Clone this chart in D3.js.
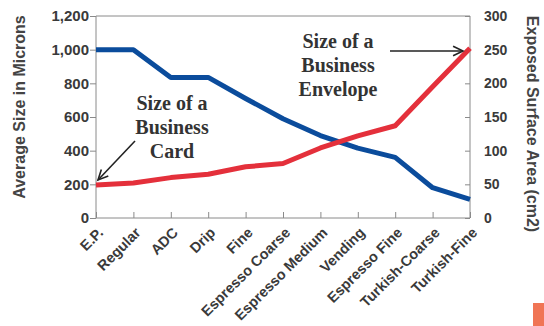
<!DOCTYPE html>
<html>
<head>
<meta charset="utf-8">
<script src="https://cdn.jsdelivr.net/npm/d3@7"></script>
<style>
  html, body { margin: 0; padding: 0; background: #fff; }
  svg { display: block; }
</style>
</head>
<body>
<svg id="chart" width="544" height="326"></svg>
<script>
// Grind sizes, from coarsest to finest
const grinds = ["E.P.", "Regular", "ADC", "Drip", "Fine", "Espresso Coarse",
  "Espresso Medium", "Vending", "Espresso Fine", "Turkish-Coarse", "Turkish-Fine"];
// Average particle size (microns), left axis
const sizeMicrons = [1000, 1000, 835, 835, 710, 590, 490, 415, 360, 180, 110];
// Exposed surface area (cm2), right axis
const surfaceArea = [49, 52, 60, 65, 76, 81, 104, 122, 137, 195, 252];
const leftTicks = [0, 200, 400, 600, 800, 1000, 1200];
const rightTicks = [0, 50, 100, 150, 200, 250, 300];

const svg = d3.select("#chart");
const plotL = 96, plotR = 470, plotT = 16, plotB = 218;

const x = d3.scalePoint().domain(grinds).range([plotL, plotR]).padding(0);
const yL = d3.scaleLinear().domain([0, 1200]).range([plotB, plotT]);
const yR = d3.scaleLinear().domain([0, 300]).range([plotB, plotT]);

const axisColor = "#8a8a8a";
const textColor = "#3a3a3a";
const sans = "'Liberation Sans', Arial, sans-serif";

// Frame: top edge
svg.append("line").attr("x1", plotL).attr("x2", plotR).attr("y1", plotT).attr("y2", plotT)
  .attr("stroke", axisColor).attr("stroke-width", 1);

// Left axis
const gL = svg.append("g").attr("transform", `translate(${plotL},0)`)
  .call(d3.axisLeft(yL).tickValues(leftTicks).tickFormat(d3.format(",")).tickSize(6).tickPadding(1));
// Right axis (ticks point inward)
const gR = svg.append("g").attr("transform", `translate(${plotR},0)`)
  .call(d3.axisRight(yR).tickValues(rightTicks).tickSize(-5).tickPadding(14));
// Bottom axis (ticks point inward)
const gB = svg.append("g").attr("transform", `translate(0,${plotB})`)
  .call(d3.axisBottom(x).tickSize(-6).tickPadding(6));

[gL, gR, gB].forEach(g => {
  g.select(".domain").attr("stroke", axisColor).attr("stroke-width", 1);
  g.selectAll(".tick line").attr("stroke", axisColor).attr("stroke-width", 1);
  g.selectAll(".tick text").style("font", `bold 15px ${sans}`).attr("fill", textColor);
});
gR.selectAll(".tick text").style("font", `bold 14px ${sans}`);
gR.select(".domain").attr("d", `M0,${plotT}V${plotB}`);
gL.select(".domain").attr("d", `M0,${plotT}V${plotB}`);
gB.select(".domain").attr("d", `M${plotL},0H${plotR}`);

gB.selectAll(".tick text")
  .style("font", `bold 14.5px ${sans}`)
  .attr("text-anchor", "end")
  .attr("dy", "0.35em")
  .attr("transform", "translate(4,12) rotate(-45)")
  .attr("x", 0).attr("y", 0);

// Axis titles
svg.append("text")
  .attr("transform", "translate(25,107) rotate(-90)")
  .attr("text-anchor", "middle")
  .style("font", `bold 16px ${sans}`)
  .attr("fill", "#444").text("Average Size in Microns");
svg.append("text")
  .attr("transform", "translate(527,124) rotate(90)")
  .attr("text-anchor", "middle")
  .style("font", `bold 16px ${sans}`)
  .attr("fill", "#444").text("Exposed Surface Area (cm2)");

// Series lines
const lineL = d3.line().x((d, i) => x(grinds[i])).y(d => yL(d));
const lineR = d3.line().x((d, i) => x(grinds[i])).y(d => yR(d));
svg.append("path").datum(sizeMicrons).attr("d", lineL)
  .attr("fill", "none").attr("stroke", "#0b4c9c").attr("stroke-width", 5)
  .attr("stroke-linejoin", "round");
svg.append("path").datum(surfaceArea).attr("d", lineR)
  .attr("fill", "none").attr("stroke", "#e4303b").attr("stroke-width", 5)
  .attr("stroke-linejoin", "round");

// Annotations
const noteFont = "bold 20px 'Liberation Serif', 'Times New Roman', serif";
function note(cx, ys, lines) {
  lines.forEach((t, i) => svg.append("text")
    .attr("x", cx).attr("y", ys[i]).attr("text-anchor", "middle")
    .style("font", noteFont).attr("fill", "#333").text(t));
}
note(172, [110, 134, 158], ["Size of a", "Business", "Card"]);
note(338, [48, 72, 96], ["Size of a", "Business", "Envelope"]);

function arrow(x1, y1, x2, y2) {
  svg.append("line").attr("x1", x1).attr("y1", y1).attr("x2", x2).attr("y2", y2)
    .attr("stroke", "#222").attr("stroke-width", 1.6);
  const a = Math.atan2(y2 - y1, x2 - x1), L = 11, s = 0.45;
  const p = t => [x2 - L * Math.cos(a + t), y2 - L * Math.sin(a + t)];
  const [ax, ay] = p(s), [bx, by] = p(-s);
  svg.append("path").attr("d", `M${ax},${ay}L${x2},${y2}L${bx},${by}`)
    .attr("fill", "none").attr("stroke", "#222").attr("stroke-width", 1.6);
}
arrow(135, 141, x(grinds[0]) + 2, yR(surfaceArea[0]) - 5);
arrow(390, 51, 463, 51);

// Corner tab
svg.append("rect").attr("x", 533).attr("y", 303).attr("width", 11).attr("height", 23)
  .attr("fill", "#f07555");
</script>
</body>
</html>
